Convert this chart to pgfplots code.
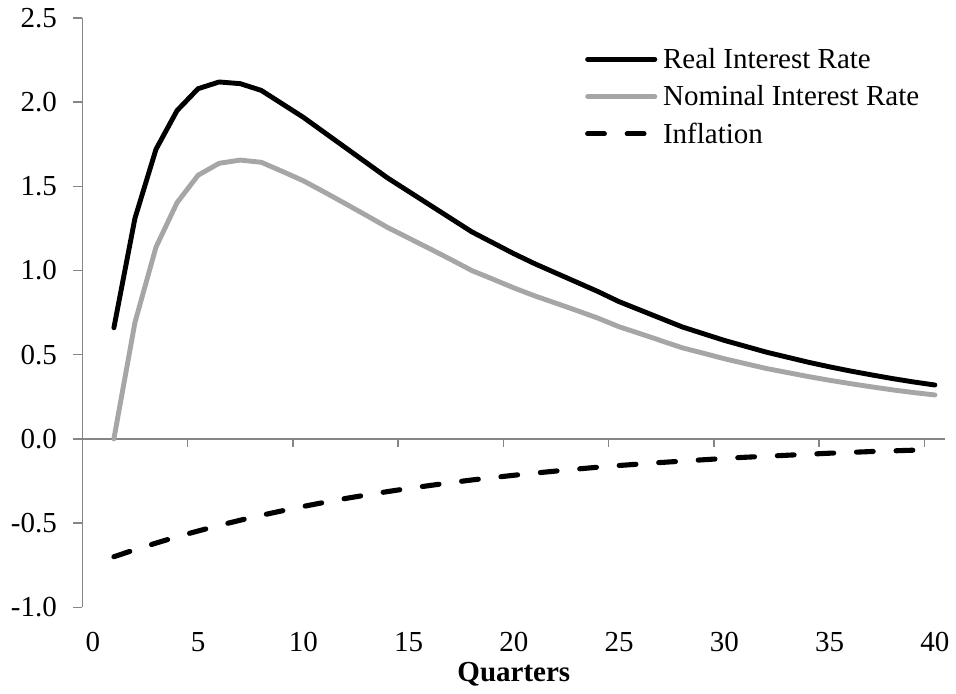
\documentclass[border=0pt]{standalone}
\usepackage{pgfplots}
\pgfplotsset{compat=1.18}
\usepackage{pgfplotstable}
\usepackage{fontspec}
\setmainfont{Liberation Serif}
\definecolor{axisgray}{HTML}{868686}
\definecolor{nomgray}{HTML}{A6A6A6}
\newcommand{\chartfont}{\fontsize{14.5}{17}\selectfont}
\pgfplotstableread{
k real nominal inflation
1 0.66 0.00 -0.700
2 1.31 0.691 -0.658
3 1.72 1.139 -0.619
4 1.95 1.403 -0.581
5 2.08 1.566 -0.547
6 2.12 1.637 -0.514
7 2.11 1.656 -0.483
8 2.07 1.643 -0.454
9 1.99 1.589 -0.427
10 1.91 1.533 -0.401
11 1.82 1.466 -0.377
12 1.73 1.397 -0.354
13 1.64 1.327 -0.333
14 1.55 1.256 -0.313
15 1.47 1.193 -0.294
16 1.39 1.130 -0.277
17 1.31 1.066 -0.260
18 1.23 1.000 -0.244
19 1.165 0.949 -0.230
20 1.10 0.897 -0.216
21 1.04 0.849 -0.203
22 0.985 0.806 -0.191
23 0.93 0.762 -0.179
24 0.875 0.717 -0.168
25 0.815 0.666 -0.158
26 0.765 0.625 -0.149
27 0.715 0.583 -0.140
28 0.665 0.541 -0.132
29 0.625 0.509 -0.124
30 0.585 0.476 -0.116
31 0.55 0.447 -0.109
32 0.515 0.418 -0.103
33 0.485 0.394 -0.097
34 0.455 0.370 -0.091
35 0.428 0.348 -0.085
36 0.403 0.328 -0.080
37 0.38 0.309 -0.075
38 0.358 0.291 -0.071
39 0.338 0.275 -0.067
40 0.32 0.261 -0.063
}\data
\begin{document}
\begin{tikzpicture}
\useasboundingbox (-41.15pt,-43.35pt) rectangle (436.8pt,303.6pt);
% zero line with its tick marks
\begin{axis}[scale only axis, width=431.5pt, height=294.6pt,
  xmin=-0.5, xmax=40.5, ymin=-1, ymax=2.5,
  axis x line*=middle, axis y line=none,
  xtick={4.5,9.5,...,39.5}, xticklabels={}, ytick=\empty,
  tick align=outside, major tick length=4pt,
  x axis line style={axisgray, line width=0.75pt},
  xtick style={axisgray, line width=0.75pt},
  clip=false]
\end{axis}
% main axis
\begin{axis}[scale only axis, width=431.5pt, height=294.6pt,
  xmin=-0.5, xmax=40.5, ymin=-1, ymax=2.5,
  axis x line*=bottom, axis y line*=left,
  x axis line style={draw=none},
  y axis line style={axisgray, line width=0.75pt},
  xtick={0,5,...,40}, xtick style={draw=none},
  ytick={-1,-0.5,...,2.5}, ytick style={axisgray, line width=0.75pt},
  tick align=outside, major tick length=4.5pt,
  /pgf/number format/assume math mode=true,
  yticklabel style={/pgf/number format/fixed, /pgf/number format/fixed zerofill, /pgf/number format/precision=1,
    anchor=east, inner sep=0pt, xshift=-8pt, font=\chartfont},
  xticklabel style={anchor=base, inner sep=0pt, yshift=-17.7pt, font=\chartfont},
  xlabel={\textbf{Quarters}},
  x label style={at={(axis description cs:0.5,0)}, anchor=base, yshift=-37.2pt, inner sep=0pt, font=\chartfont},
  every axis plot/.append style={line cap=round, line join=round},
  legend cell align=left,
  legend style={draw=none, fill=none, at={(0.5825,0.948)}, anchor=north west, inner sep=0pt, outer sep=0pt,
    nodes={inner sep=0pt, text height=10pt, text depth=8.65pt, font=\chartfont},
    column sep=2.85pt, row sep=0pt},
  legend image code/.code={\draw[#1] (1.2pt,4pt) -- (34.8pt,4pt);},
  clip=false]
\addplot[black, line width=2.45pt] table[x=k,y=real]{\data};
\addlegendentry{Real Interest Rate}
\addplot[nomgray, line width=2.45pt] table[x=k,y=nominal]{\data};
\addlegendentry{Nominal Interest Rate}
\addplot[black, line width=2.55pt, dash pattern=on 8.4pt off 11.4pt] table[x=k,y=inflation]{\data};
\addlegendentry{Inflation}
\end{axis}
\end{tikzpicture}
\end{document}
